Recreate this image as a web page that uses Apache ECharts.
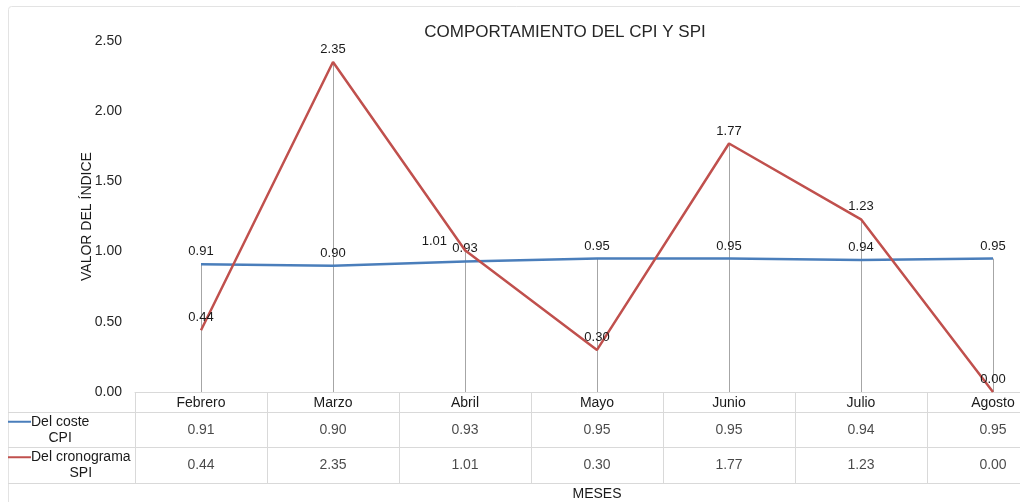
<!DOCTYPE html>
<html>
<head>
<meta charset="utf-8">
<script src="https://cdn.jsdelivr.net/npm/echarts@6/dist/echarts.min.js"></script>
<style>
html,body{margin:0;padding:0;background:#fff}
#chart{width:1020px;height:502px}
</style>
</head>
<body>
<div id="chart"></div>
<script>
// datos
var meses = ['Febrero', 'Marzo', 'Abril', 'Mayo', 'Junio', 'Julio', 'Agosto'];
var cpi = [0.91, 0.90, 0.93, 0.95, 0.95, 0.94, 0.95];
var spi = [0.44, 2.35, 1.01, 0.30, 1.77, 1.23, 0.00];
var nombres = ['Del coste\nCPI', 'Del cronograma\nSPI'];
var yMin = 0, yMax = 2.5, yPaso = 0.5;

var colores = ['#4a7ebb', '#c0504d'];
var gris = '#d9d9d9';
var fuente = '"Liberation Sans", Arial, sans-serif';

// tabla de datos bajo el grafico
var tabla = [];
[cpi, spi].forEach(function (serie, fila) {
    serie.forEach(function (v, i) { tabla.push([i, fila, v]); });
});
// lineas de caida (desde el punto mas alto hasta el eje)
var caida = meses.map(function (m, i) { return [i, Math.max(cpi[i], spi[i])]; });

var myChart = echarts.init(document.getElementById('chart'));
var option = {
    backgroundColor: '#fff',
    animation: false,
    textStyle: { fontFamily: fuente },
    title: {
        text: 'COMPORTAMIENTO DEL CPI Y SPI',
        left: 560, top: 19, textAlign: 'center',
        textStyle: { fontSize: 17, fontWeight: 'normal', color: '#262626', fontFamily: fuente }
    },
    graphic: [{
        type: 'rect', silent: true, z: -1,
        shape: { x: 8.5, y: 6.5, width: 1200, height: 600, r: 3 },
        style: { fill: 'none', stroke: '#e3e3e3', lineWidth: 1 }
    }],
    grid: [
        { left: 135, top: 41, width: 924, height: 351, outerBoundsMode: 'none', containLabel: false },
        { left: 135, top: 412, width: 924, height: 71, outerBoundsMode: 'none', containLabel: false }
    ],
    xAxis: [{
        gridIndex: 0, type: 'category', data: meses,
        axisLine: { show: true, lineStyle: { color: gris } },
        axisTick: { show: true, length: 20, lineStyle: { color: gris } },
        axisLabel: { interval: 0, margin: 4, fontSize: 14, color: '#1a1a1a' },
        splitLine: { show: false }
    }, {
        gridIndex: 1, type: 'category', data: meses,
        name: 'MESES', nameLocation: 'middle', nameGap: 4, nameMoveOverlap: false,
        nameTextStyle: { fontSize: 14, color: '#1a1a1a' },
        axisLine: { show: false }, axisTick: { show: false },
        axisLabel: { show: false },
        splitLine: { show: true, interval: 0, lineStyle: { color: gris } }
    }],
    yAxis: [{
        gridIndex: 0, type: 'value', min: yMin, max: yMax, interval: yPaso,
        name: 'VALOR DEL ÍNDICE', nameLocation: 'middle', nameGap: 41, nameMoveOverlap: false,
        nameTextStyle: { fontSize: 14, color: '#1a1a1a' },
        axisLine: { show: false }, axisTick: { show: false },
        splitLine: { show: false },
        axisLabel: {
            margin: 13, fontSize: 14, color: '#262626',
            formatter: function (v) { return v.toFixed(2); }
        }
    }, {
        gridIndex: 1, type: 'category', data: nombres, inverse: true,
        axisLine: { show: true, lineStyle: { color: gris } },
        axisTick: { show: true, length: 127, lineStyle: { color: gris } },
        splitLine: { show: true, interval: 0, lineStyle: { color: gris } },
        axisLabel: {
            align: 'left', margin: 127,
            formatter: function (v, i) {
                var partes = v.split('\n');
                var k = i === 0 ? 'ka' : 'kb';
                return '{' + k + '|}{t|' + partes[0] + '}\n{p|}{t|' + partes[1] + '}';
            },
            rich: {
                ka: { width: 23, height: 2, backgroundColor: colores[0], align: 'center' },
                kb: { width: 23, height: 2, backgroundColor: colores[1], align: 'center' },
                p: { width: 23, align: 'center' },
                t: { fontSize: 14, lineHeight: 16, color: '#1a1a1a', align: 'center', fontFamily: fuente }
            }
        }
    }],
    series: [{
        type: 'custom', xAxisIndex: 0, yAxisIndex: 0, z: 1, silent: true,
        data: caida,
        renderItem: function (params, api) {
            var a = api.coord([api.value(0), api.value(1)]);
            var b = api.coord([api.value(0), 0]);
            var x = Math.round(a[0]) + 0.5;
            return {
                type: 'line',
                shape: { x1: x, y1: a[1], x2: x, y2: b[1] },
                style: { stroke: '#a6a6a6', lineWidth: 1 }
            };
        }
    }, {
        name: 'Del coste CPI', type: 'line', data: cpi, z: 3,
        symbol: 'circle', symbolSize: 0.1,
        lineStyle: { color: colores[0], width: 2.5 },
        itemStyle: { color: colores[0] },
        label: {
            show: true, position: 'top', distance: 6, fontSize: 13, color: '#1a1a1a',
            formatter: function (p) { return p.value.toFixed(2); }
        }
    }, {
        name: 'Del cronograma SPI', type: 'line', z: 4,
        data: spi.map(function (v, i) {
            if (i === 2) return { value: v, label: { position: 'left', distance: 18, offset: [0, -9] } };
            return v;
        }),
        symbol: 'circle', symbolSize: 0.1,
        lineStyle: { color: colores[1], width: 2.5 },
        itemStyle: { color: colores[1] },
        label: {
            show: true, position: 'top', distance: 6, fontSize: 13, color: '#1a1a1a',
            formatter: function (p) { return (typeof p.value === 'number' ? p.value : p.data.value).toFixed(2); }
        }
    }, {
        type: 'scatter', xAxisIndex: 1, yAxisIndex: 1, data: tabla,
        symbolSize: 1, itemStyle: { color: 'rgba(0,0,0,0)' }, silent: true,
        encode: { x: 0, y: 1 },
        label: {
            show: true, position: 'inside', fontSize: 14, color: '#1a1a1a',
            formatter: function (p) { return p.value[2].toFixed(2); }
        }
    }]
};
myChart.setOption(option);
</script>
</body>
</html>
